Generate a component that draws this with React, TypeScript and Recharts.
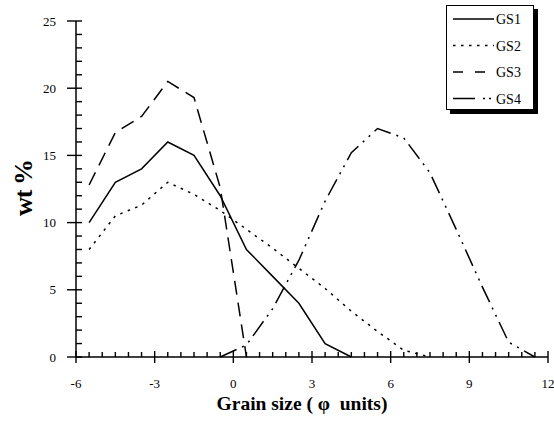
import { LineChart, Line, XAxis, YAxis, Legend } from "recharts";

// grain size class midpoints (phi units)
const phi = [-5.5, -4.5, -3.5, -2.5, -1.5, -0.5, 0.5, 1.5, 2.5, 3.5, 4.5, 5.5, 6.5, 7.5, 8.5, 9.5, 10.5, 11.5];

const gs1 = [10, 13, 14, 16, 15, 12, 8, 6, 4, 1, 0, null, null, null, null, null, null, null];
const gs2 = [8, 10.5, 11.3, 13, 12.1, 10.9, 9.5, 8.1, 6.6, 5.1, 3.4, 1.9, 0.5, 0, null, null, null, null];
const gs3 = [12.8, 16.7, 17.9, 20.5, 19.3, 12.6, 0, null, null, null, null, null, null, null, null, null, null, null];
const gs4 = [null, null, null, null, null, 0, 0.9, 3.6, 7.2, 11.6, 15.2, 17, 16.3, 13.7, 9.5, 5.2, 1.1, 0];

const xMajor = [-6, -3, 0, 3, 6, 9, 12];
const yMajor = [0, 5, 10, 15, 20, 25];

const xTicks: number[] = [];
for (let v = -6; v <= 12; v += 0.5) xTicks.push(v);
const yTicks: number[] = [];
for (let v = 0; v <= 25; v += 1) yTicks.push(v);

const series = [
  { key: "GS1", dash: undefined as string | undefined },
  { key: "GS2", dash: "2.5 5.5" },
  { key: "GS3", dash: "14 8" },
  { key: "GS4", dash: "18 6 2 6 2 6" },
];

const data = phi.map((p, i) => ({ phi: p, GS1: gs1[i], GS2: gs2[i], GS3: gs3[i], GS4: gs4[i] }));

const font = "'Liberation Serif', 'Times New Roman', serif";

// tick marks: majors cross the axis, minors point inward
const XTick = (props: any) => {
  const x = Number(props.x);
  const y = Number(props.y);
  const major = xMajor.includes(props.payload.value);
  return (
    <g>
      <rect x={x - 0.7} y={major ? y - 6 : y - 5} width={1.4} height={major ? 12 : 5} fill="#000" stroke="none" />
      {major && (
        <text x={x} y={y + 31} textAnchor="middle" fontSize={13} fontFamily={font} fill="#000">
          {props.payload.value}
        </text>
      )}
    </g>
  );
};

const YTick = (props: any) => {
  const x = Number(props.x);
  const y = Number(props.y);
  const major = yMajor.includes(props.payload.value);
  return (
    <g>
      <rect x={major ? x - 9 : x} y={y - 0.7} width={major ? 15 : 6} height={1.4} fill="#000" stroke="none" />
      {major && (
        <text x={x - 20} y={y + 4.5} textAnchor="end" fontSize={13} fontFamily={font} fill="#000">
          {props.payload.value}
        </text>
      )}
    </g>
  );
};

const renderLegend = () => (
  <div
    style={{
      width: 88,
      height: 105,
      border: "1px solid #000",
      boxShadow: "4px 4px 0 #000",
      background: "#fff",
      boxSizing: "border-box",
    }}
  >
    <svg width={86} height={103}>
      {series.map((s, i) => (
        <g key={s.key}>
          <line
            x1={6}
            x2={47}
            y1={13 + i * 26.5}
            y2={13 + i * 26.5}
            stroke="#000"
            strokeWidth={1.4}
            strokeDasharray={s.key === "GS3" ? "10 12" : s.key === "GS4" ? "22 8 2 4 2 4" : s.dash}
          />
          <text x={49} y={18 + i * 26.5} fontSize={14} fontFamily={font} fill="#000">
            {s.key}
          </text>
        </g>
      ))}
    </svg>
  </div>
);

export default function App() {
  return (
    <div style={{ position: "absolute", left: 0, top: 0, width: 554, height: 425, background: "#fff" }}>
      <LineChart width={554} height={425} data={data} margin={{ top: 21, right: 6, bottom: 0, left: 16 }}>
        <XAxis
          dataKey="phi"
          type="number"
          domain={[-6, 12]}
          ticks={xTicks}
          interval={0}
          tickSize={0}
          tickMargin={0}
          tickLine={false}
          tick={<XTick />}
          stroke="#000"
          strokeWidth={1.5}
          height={68}
          label={{
            content: () => (
              <text
                x={302}
                y={410}
                textAnchor="middle"
                fontSize={19.5}
                fontWeight="bold"
                fontFamily={font}
                fill="#000"
                style={{ whiteSpace: "pre" }}
              >
                {"Grain size ( φ  units)"}
              </text>
            ),
          }}
        />
        <YAxis
          type="number"
          domain={[0, 25]}
          ticks={yTicks}
          interval={0}
          tickSize={0}
          tickMargin={0}
          tickLine={false}
          tick={<YTick />}
          stroke="#000"
          strokeWidth={1.5}
          width={60}
          label={{
            content: () => (
              <text
                x={32}
                y={188}
                transform="rotate(-90 32 188)"
                textAnchor="middle"
                fontSize={26}
                fontWeight="bold"
                fontFamily={font}
                fill="#000"
                letterSpacing={-1}
              >
                wt %
              </text>
            ),
          }}
        />
        <Legend
          layout="vertical"
          align="center"
          verticalAlign="middle"
          content={renderLegend}
          wrapperStyle={{ left: 446, top: 5, width: 92, height: 110 }}
        />
        {series.map((s) => (
          <Line
            key={s.key}
            dataKey={s.key}
            type="linear"
            stroke="#000"
            strokeWidth={1.5}
            strokeDasharray={s.dash}
            dot={false}
            activeDot={false}
            connectNulls={false}
            isAnimationActive={false}
          />
        ))}
      </LineChart>
    </div>
  );
}
